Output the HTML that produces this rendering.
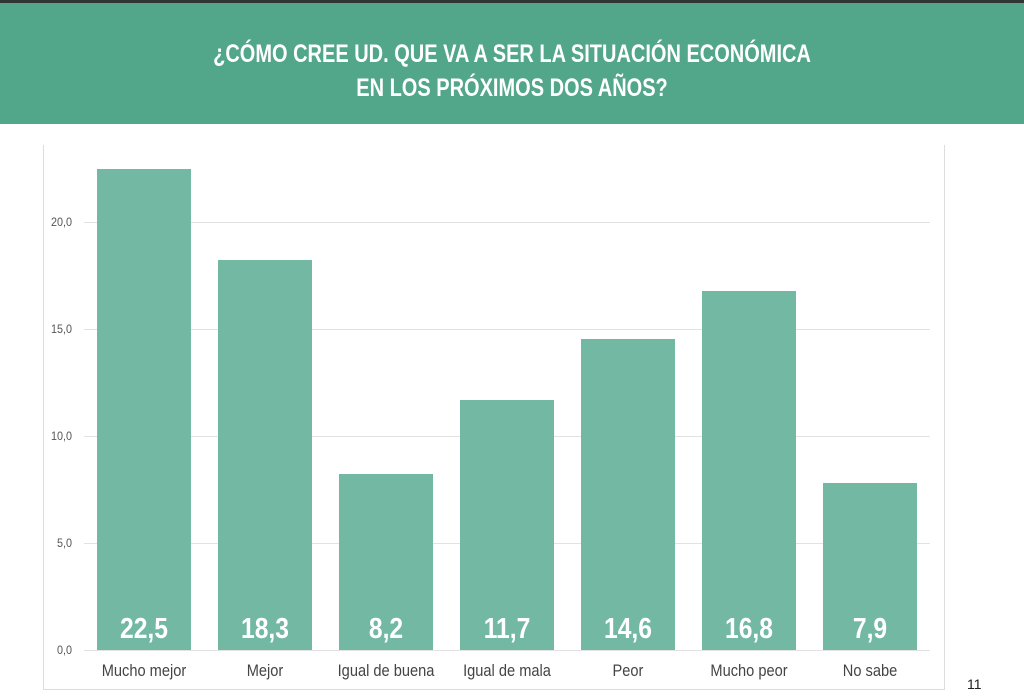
<!DOCTYPE html>
<html><head><meta charset="utf-8"><style>
body{margin:0;width:1024px;height:698px;background:#fff;position:relative;overflow:hidden;font-family:"Liberation Sans",sans-serif}
.top{position:absolute;left:0;top:0;width:1024px;height:3px;background:#2e3532}
.hdr{position:absolute;left:0;top:3px;width:1024px;height:121px;background:#52a68a}
.t{position:absolute;left:0;width:1024px;text-align:center;color:#fff;font-weight:bold;font-size:25px;transform:scaleX(0.8);transform-origin:512px 0}
.panel{position:absolute;left:43px;top:145px;width:900px;height:544px;border:1px solid #ddd;border-top:none}
.g{position:absolute;left:84px;width:846px;height:1px;background:#e2e2e2}
.yl{position:absolute;left:40px;width:32px;text-align:right;font-size:12px;color:#555;transform:scaleX(0.9);transform-origin:right}
.bar{position:absolute;width:94px;background:#72b8a2}
.v{position:absolute;width:94px;text-align:center;color:#fff;font-weight:bold;font-size:29px;top:613px;transform:scaleX(0.85)}
.xl{position:absolute;width:140px;text-align:center;font-size:17px;color:#444;top:661px;transform:scaleX(0.86)}
</style></head><body>
<div class="top"></div>
<div class="hdr"></div>
<div class="t" style="top:40px">¿CÓMO CREE UD. QUE VA A SER LA SITUACIÓN ECONÓMICA</div>
<div class="t" style="top:74px">EN LOS PRÓXIMOS DOS AÑOS?</div>
<div class="panel"></div>
<div class="g" style="top:222px"></div><div class="g" style="top:329px"></div><div class="g" style="top:436px"></div><div class="g" style="top:543px"></div><div class="g" style="top:650px"></div>
<div class="yl" style="top:215px">20,0</div><div class="yl" style="top:322px">15,0</div><div class="yl" style="top:429px">10,0</div><div class="yl" style="top:536px">5,0</div><div class="yl" style="top:643px">0,0</div>
<div class="bar" style="left:97px;top:169px;height:481px"></div>
<div class="bar" style="left:218px;top:260px;height:390px"></div>
<div class="bar" style="left:339px;top:474px;height:176px"></div>
<div class="bar" style="left:460px;top:400px;height:250px"></div>
<div class="bar" style="left:581px;top:339px;height:311px"></div>
<div class="bar" style="left:702px;top:291px;height:359px"></div>
<div class="bar" style="left:823px;top:483px;height:167px"></div>
<div class="v" style="left:97px">22,5</div><div class="v" style="left:218px">18,3</div><div class="v" style="left:339px">8,2</div><div class="v" style="left:460px">11,7</div><div class="v" style="left:581px">14,6</div><div class="v" style="left:702px">16,8</div><div class="v" style="left:823px">7,9</div>
<div class="xl" style="left:74px">Mucho mejor</div><div class="xl" style="left:195px">Mejor</div><div class="xl" style="left:316px">Igual de buena</div><div class="xl" style="left:437px">Igual de mala</div><div class="xl" style="left:558px">Peor</div><div class="xl" style="left:679px">Mucho peor</div><div class="xl" style="left:800px">No sabe</div>
<div style="position:absolute;left:967px;top:676px;font-size:14px;color:#222">11</div>
</body></html>
